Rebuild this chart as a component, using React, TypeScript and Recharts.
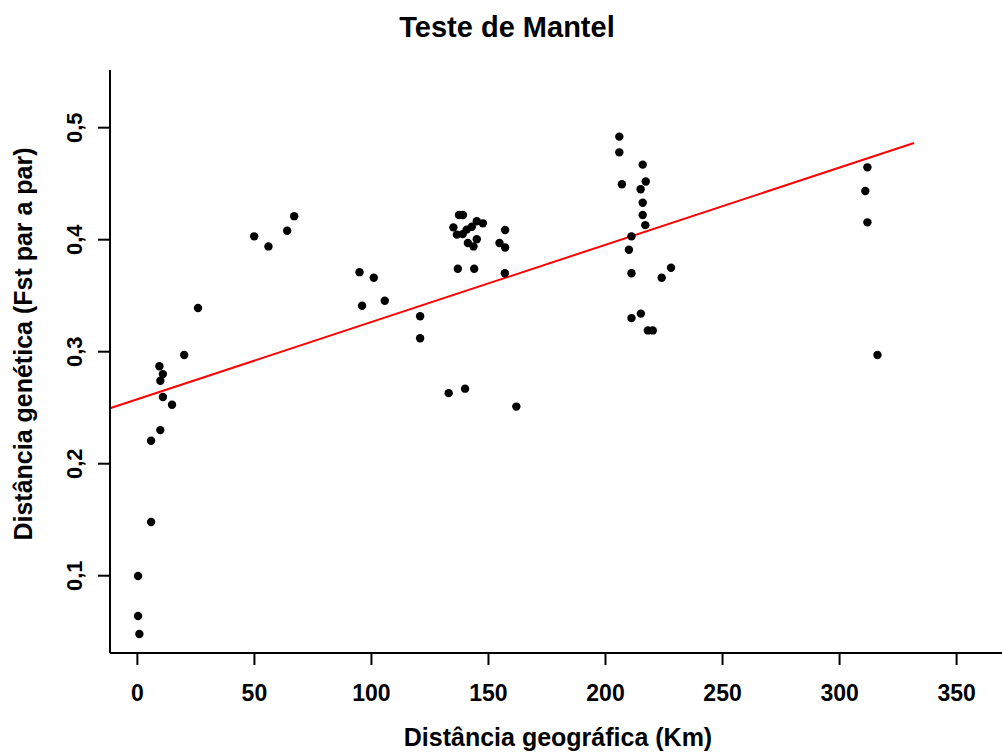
import { ScatterChart, Scatter, XAxis, YAxis, ReferenceLine } from "recharts"

// distância geográfica (km) e Fst par a par
const distKm = [
  0.3, 0.3, 0.85, 5.85, 5.85, 9.8, 14.8, 10.9, 9.8, 10.9, 9.4, 20, 25.9,
  49.9, 56.0, 64.0, 67.0, 94.9, 101.0, 96.0, 105.7, 120.8, 120.8,
  137.4, 139.1, 135.0, 136.5, 139.0, 140.7, 142.9, 145.0, 147.6, 141.2, 143.6, 145.0,
  157.1, 154.7, 157.1, 136.9, 143.9, 157.0, 133.0, 140.0, 161.9,
  205.9, 205.9, 215.9, 207.0, 217.2, 215.0, 215.9, 215.9, 217.0, 211.1, 210.0, 211.1,
  228.0, 224.0, 211.1, 215.1, 218.1, 220.2,
  311.9, 311.0, 311.9, 316.2,
]
const fst = [
  0.0997, 0.064, 0.048, 0.148, 0.2205, 0.23, 0.2527, 0.2596, 0.274, 0.28, 0.287, 0.297, 0.339,
  0.403, 0.394, 0.408, 0.421, 0.371, 0.366, 0.341, 0.3455, 0.3316, 0.312,
  0.422, 0.422, 0.411, 0.4045, 0.405, 0.409, 0.4116, 0.4164, 0.4146, 0.397, 0.394, 0.4004,
  0.4087, 0.397, 0.393, 0.374, 0.374, 0.37, 0.263, 0.267, 0.251,
  0.492, 0.478, 0.467, 0.4495, 0.452, 0.445, 0.433, 0.422, 0.413, 0.403, 0.391, 0.37,
  0.375, 0.366, 0.33, 0.334, 0.319, 0.319,
  0.4646, 0.4435, 0.4155, 0.297,
]

// reta de regressão (extremos)
const fitX = [-11.7, 331.8]
const fitY = [0.2495, 0.4863]

const xTicks = [0, 50, 100, 150, 200, 250, 300, 350]
const yTicks = [0.1, 0.2, 0.3, 0.4, 0.5]

const points = distKm.map((x, i) => ({ x, y: fst[i] }))

const FONT = "'Liberation Sans', Arial, sans-serif"

function XTick({ x, y, payload }: any) {
  return (
    <text x={x} y={y + 34} textAnchor="middle" fontFamily={FONT} fontWeight="bold" fontSize={23} fill="#000">
      {payload.value}
    </text>
  )
}

function YTick({ y, payload }: any) {
  return (
    <text
      x={0}
      y={0}
      transform={`translate(82, ${y}) rotate(-90)`}
      textAnchor="middle"
      fontFamily={FONT}
      fontWeight="bold"
      fontSize={22}
      fill="#000"
    >
      {String(payload.value).replace(".", ",")}
    </text>
  )
}

function Dot({ cx, cy }: any) {
  return <circle cx={cx} cy={cy} r={4.2} fill="#000" />
}

export default function App() {
  return (
    <div style={{ position: "absolute", left: 0, top: 0, width: 1002, height: 754, background: "#fff" }}>
      <ScatterChart width={1002} height={754} margin={{ top: 70, right: 0, bottom: 0, left: 0 }}>
        <XAxis
          type="number"
          dataKey="x"
          domain={[-11.7, 369.4]}
          ticks={xTicks}
          allowDataOverflow
          height={101}
          tickSize={12}
          tick={<XTick />}
          axisLine={{ stroke: "#000", strokeWidth: 2 }}
          tickLine={{ stroke: "#000", strokeWidth: 2 }}
        />
        <YAxis
          type="number"
          dataKey="y"
          domain={[0.031, 0.5515]}
          ticks={yTicks}
          allowDataOverflow
          width={110}
          tickSize={12}
          tick={<YTick />}
          axisLine={{ stroke: "#000", strokeWidth: 2 }}
          tickLine={{ stroke: "#000", strokeWidth: 2 }}
        />
        <Scatter data={points} fill="#000" shape={<Dot />} isAnimationActive={false} />
        <ReferenceLine
          segment={[{ x: fitX[0], y: fitY[0] }, { x: fitX[1], y: fitY[1] }]}
          stroke="#ff0000"
          strokeWidth={2}
          ifOverflow="visible"
        />
      </ScatterChart>
      <svg width={1002} height={754} style={{ position: "absolute", left: 0, top: 0, pointerEvents: "none" }}>
        <text x={507} y={37} textAnchor="middle" fontFamily={FONT} fontWeight="bold" fontSize={29} fill="#000">
          Teste de Mantel
        </text>
        <text x={558} y={746} textAnchor="middle" fontFamily={FONT} fontWeight="bold" fontSize={25} fill="#000">
          Distância geográfica (Km)
        </text>
        <text
          x={0}
          y={0}
          transform="translate(32, 344) rotate(-90)"
          textAnchor="middle"
          fontFamily={FONT}
          fontWeight="bold"
          fontSize={25}
          fill="#000"
        >
          Distância genética (Fst par a par)
        </text>
      </svg>
    </div>
  )
}
